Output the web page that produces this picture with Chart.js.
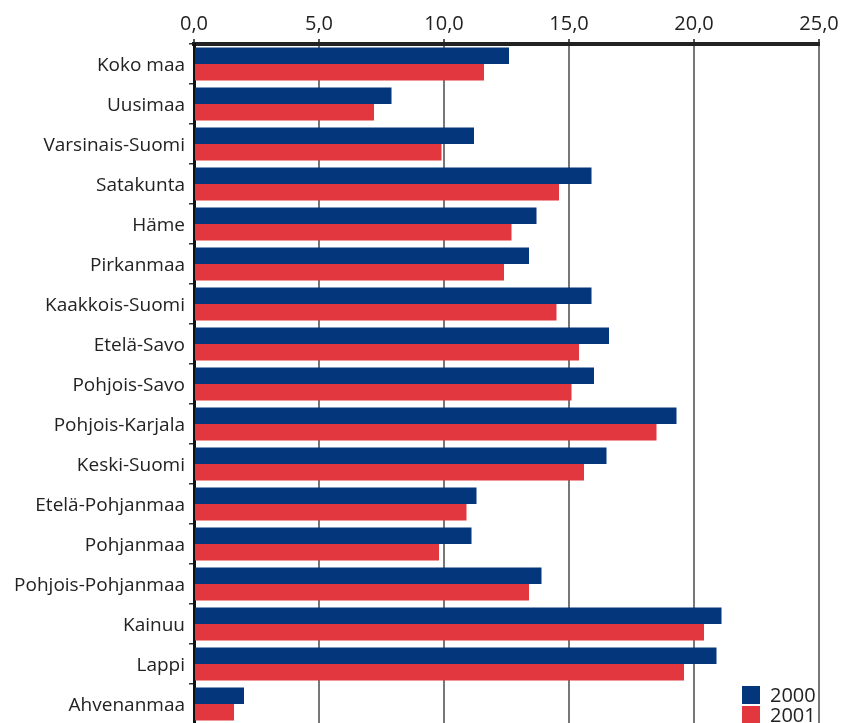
<!DOCTYPE html>
<html>
<head>
<meta charset="utf-8">
<script src="https://cdn.jsdelivr.net/npm/chart.js@4"></script>
<style>
  html, body { margin: 0; padding: 0; background: #fff; overflow: hidden; }
  #wrap { position: relative; width: 841px; height: 724px; }
</style>
</head>
<body>
<div id="wrap"><canvas id="regionChart"></canvas></div>
<script>
// alueet ja arvot
var regions = ['Koko maa', 'Uusimaa', 'Varsinais-Suomi', 'Satakunta', 'Häme', 'Pirkanmaa',
  'Kaakkois-Suomi', 'Etelä-Savo', 'Pohjois-Savo', 'Pohjois-Karjala', 'Keski-Suomi',
  'Etelä-Pohjanmaa', 'Pohjanmaa', 'Pohjois-Pohjanmaa', 'Kainuu', 'Lappi', 'Ahvenanmaa'];
var values2000 = [12.6, 7.9, 11.2, 15.9, 13.7, 13.4, 15.9, 16.6, 16.0, 19.3, 16.5, 11.3, 11.1, 13.9, 21.1, 20.9, 2.0];
var values2001 = [11.6, 7.2, 9.9, 14.6, 12.7, 12.4, 14.5, 15.4, 15.1, 18.5, 15.6, 10.9, 9.8, 13.4, 20.4, 19.6, 1.6];
var seriesLabels = ['2000', '2001'];
var xTicks = [0, 5, 10, 15, 20, 25];

var fontFamily = '"Open Sans", Lato, sans-serif';

// selite oikeaan alakulmaan
var cornerLegend = {
  id: 'cornerLegend',
  afterDraw: function(chart) {
    var ctx = chart.ctx;
    var area = chart.chartArea;
    ctx.save();
    ctx.font = '20px ' + fontFamily;
    ctx.textBaseline = 'middle';
    ctx.textAlign = 'left';
    chart.data.datasets.forEach(function(ds, i) {
      var x = area.right - 77;
      var y = area.bottom - 38 + i * 20;
      ctx.fillStyle = '#fff';
      ctx.fillRect(x - 2, y - 1, 76, 20);
      ctx.fillStyle = ds.backgroundColor;
      ctx.fillRect(x, y, 18, 18);
      ctx.fillStyle = '#222';
      ctx.fillText(ds.label, x + 28, y + 10);
    });
    ctx.restore();
  }
};

var ctx = document.getElementById('regionChart');
var regionChart = new Chart(ctx, {
  type: 'bar',
  data: {
    labels: regions,
    datasets: [{
      label: seriesLabels[0],
      data: values2000,
      backgroundColor: '#03367A'
    }, {
      label: seriesLabels[1],
      data: values2001,
      backgroundColor: '#E3373F'
    }]
  },
  options: {
    indexAxis: 'y',
    responsive: true,
    maintainAspectRatio: false,
    animation: false,
    layout: { padding: { top: 0, right: 22, bottom: 0, left: 0 } },
    datasets: {
      bar: { categoryPercentage: 0.83, barPercentage: 1.0 }
    },
    plugins: {
      legend: { display: false },
      tooltip: { enabled: false }
    },
    scales: {
      x: {
        position: 'top',
        min: 0,
        max: 25,
        afterFit: function(scale) {
          scale.height = 44;
          scale.paddingLeft = 0;
          scale.paddingRight = 0;
        },
        afterBuildTicks: function(scale) {
          scale.ticks = xTicks.map(function(v) { return { value: v }; });
        },
        ticks: {
          color: '#222',
          padding: 3,
          font: { family: fontFamily, size: 20 },
          callback: function(v) { return v.toFixed(1).replace('.', ','); }
        },
        grid: {
          color: function(c) { return c.index === 0 ? 'rgba(0,0,0,0)' : '#777'; },
          lineWidth: 2,
          tickLength: 5,
          tickColor: '#555'
        },
        border: { color: '#222', width: 4 }
      },
      y: {
        afterFit: function(scale) {
          scale.width = 194;
          scale.paddingTop = 0;
          scale.paddingBottom = 0;
        },
        ticks: {
          color: '#222',
          padding: 4,
          labelOffset: 2,
          font: { family: fontFamily, size: 19 }
        },
        grid: {
          drawOnChartArea: false,
          tickLength: 5,
          tickColor: '#333',
          lineWidth: 1.5
        },
        border: { color: '#111', width: 3 }
      }
    }
  },
  plugins: [cornerLegend]
});
</script>
</body>
</html>
